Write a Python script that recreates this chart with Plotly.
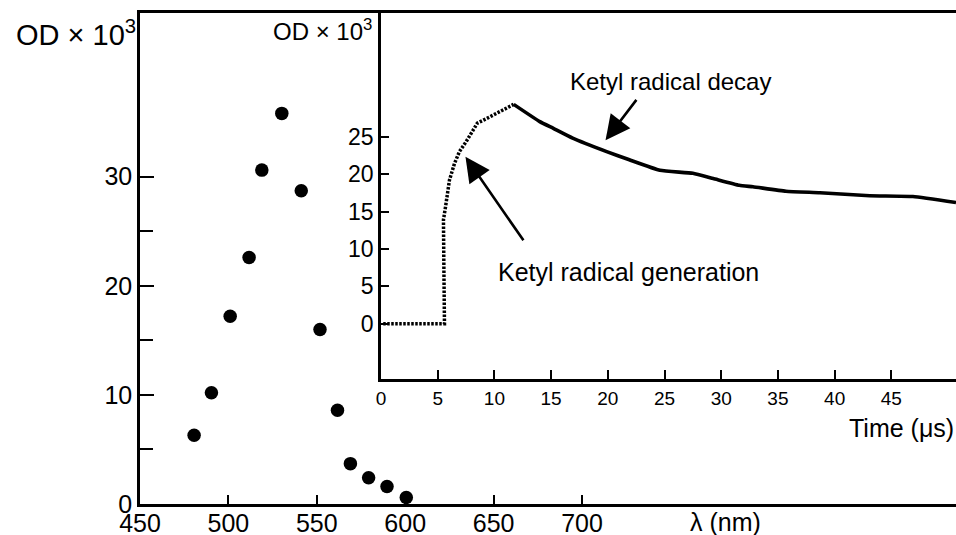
import plotly.graph_objects as go

# ---- data ----
wavelength_nm = [480.6, 490.4, 501.0, 511.7, 518.9, 530.2, 541.2, 551.8, 561.7, 569.0, 579.3, 589.7, 600.6]
od_spectrum = [6.3, 10.2, 17.2, 22.6, 30.6, 35.8, 28.7, 16.0, 8.6, 3.7, 2.4, 1.6, 0.6]

gen_time_us = [0.2, 5.6, 5.55, 5.51, 5.69, 6.04, 6.48, 6.92, 7.5, 7.95, 8.5, 9.3, 10.2, 11.7]
gen_od = [0.0, 0.0, 7.0, 13.9, 15.6, 19.2, 21.4, 23.0, 24.3, 25.4, 26.8, 27.4, 28.1, 29.3]

decay_time_us = [11.7, 14.0, 15.2, 16.9, 19.9, 21.9, 24.6, 27.5, 29.3, 31.6, 32.8, 35.7, 38.7, 43.1, 46.9, 50.7]
decay_od = [29.3, 27.0, 26.1, 24.8, 23.0, 21.9, 20.5, 20.1, 19.4, 18.5, 18.3, 17.7, 17.5, 17.1, 17.0, 16.2]

main_xticks = [450, 500, 550, 600, 650, 700]
main_yticks = [0, 10, 20, 30]
main_yminor = [5, 15, 25]
inset_xticks = [0, 5, 10, 15, 20, 25, 30, 35, 40, 45]
inset_yticks = [0, 5, 10, 15, 20, 25]

FONT = "Liberation Sans, Arial, Helvetica, sans-serif"
BLACK = "#000000"

fig = go.Figure()

fig.add_trace(go.Scatter(
    x=wavelength_nm, y=od_spectrum, mode="markers",
    marker=dict(color=BLACK, size=13.5, line=dict(width=0)),
    xaxis="x", yaxis="y", showlegend=False, hoverinfo="skip"))

fig.add_trace(go.Scatter(
    x=gen_time_us, y=gen_od, mode="lines",
    line=dict(color=BLACK, width=3.5, dash="2.5px,1.5px"),
    xaxis="x2", yaxis="y2", showlegend=False, hoverinfo="skip"))

fig.add_trace(go.Scatter(
    x=decay_time_us, y=decay_od, mode="lines",
    line=dict(color=BLACK, width=3.6, shape="spline", smoothing=0.4),
    xaxis="x2", yaxis="y2", showlegend=False, hoverinfo="skip"))

axis_common = dict(showgrid=False, zeroline=False, showline=True, linecolor=BLACK,
                   linewidth=2.5, ticks="inside", tickcolor=BLACK, tickwidth=2,
                   automargin=False,
                   tickfont=dict(family=FONT, size=25, color=BLACK))

fig.update_layout(
    width=956, height=535,
    margin=dict(l=140, r=0, t=13, b=31),
    paper_bgcolor="white", plot_bgcolor="white",
    font=dict(family=FONT, color=BLACK),
    xaxis=dict(axis_common, range=[450, 911.5], tickmode="array", tickvals=main_xticks,
               ticklen=9, mirror=True, domain=[0, 1], ticklabelstandoff=-5),
    yaxis=dict(axis_common, range=[0, 45], tickmode="array", tickvals=main_yticks,
               ticklen=14, minor=dict(tickmode="array", tickvals=main_yminor, ticks="inside",
                                      ticklen=13, tickwidth=2, tickcolor=BLACK)),
    xaxis2=dict(axis_common, anchor="y2", domain=[0.2953, 1], range=[0, 50.7],
                tickmode="array", tickvals=inset_xticks, ticklen=10,
                tickfont=dict(family=FONT, size=19, color=BLACK)),
    yaxis2=dict(axis_common, anchor="x2", domain=[0.254, 1], range=[-7.4, 41.5],
                tickmode="array", tickvals=inset_yticks, ticklen=8,
                tickfont=dict(family=FONT, size=23, color=BLACK)),
)

annotations = [
    dict(text="OD × 10<sup>3</sup>", xref="paper", yref="paper", x=-0.003, y=0.96,
         xanchor="right", yanchor="middle", showarrow=False,
         font=dict(family=FONT, size=29, color=BLACK)),
    dict(text="OD × 10<sup>3</sup>", xref="paper", yref="paper", x=0.2863, y=0.965,
         xanchor="right", yanchor="middle", showarrow=False,
         font=dict(family=FONT, size=24, color=BLACK)),
    dict(text="λ (nm)", xref="paper", yref="paper", x=(725 - 140) / 816, y=-0.036,
         xanchor="center", yanchor="middle", showarrow=False,
         font=dict(family=FONT, size=25, color=BLACK)),
    dict(text="Time (μs)", xref="paper", yref="paper", x=1.0, y=(504 - 428) / 491,
         xanchor="right", yanchor="middle", showarrow=False,
         font=dict(family=FONT, size=25, color=BLACK)),
    dict(text="Ketyl radical decay", xref="x2", yref="y2", x=25.5, y=32.4,
         xanchor="center", yanchor="middle", showarrow=False,
         font=dict(family=FONT, size=24, color=BLACK)),
    dict(text="Ketyl radical generation", xref="x2", yref="y2", x=21.8, y=6.9,
         xanchor="center", yanchor="middle", showarrow=False,
         font=dict(family=FONT, size=25, color=BLACK)),
    dict(text="", xref="x2", yref="y2", x=19.8, y=24.5, ax=32, ay=-42,
         showarrow=True, arrowhead=2, arrowsize=1.9, arrowwidth=2.6, arrowcolor=BLACK,
         standoff=0),
    dict(text="", xref="x2", yref="y2", x=7.45, y=22.3, ax=59, ay=85,
         showarrow=True, arrowhead=2, arrowsize=1.9, arrowwidth=2.6, arrowcolor=BLACK,
         standoff=0),
]
fig.update_layout(annotations=annotations)

fig.write_html("out.html")
